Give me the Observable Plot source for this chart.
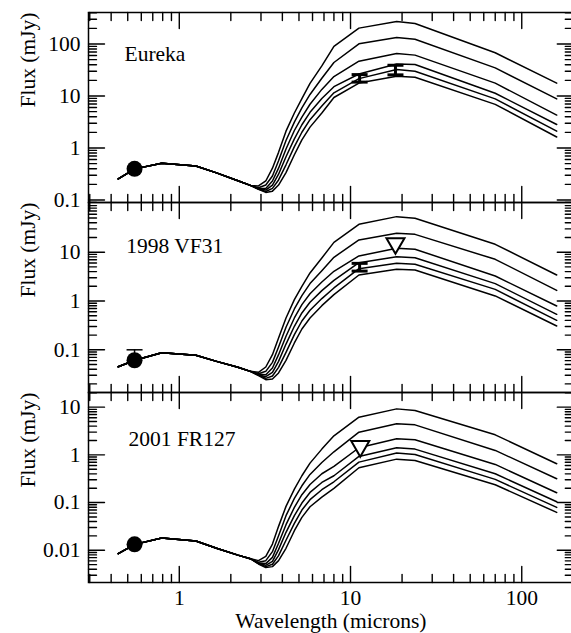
<!DOCTYPE html>
<html><head><meta charset="utf-8">
<script src="https://cdn.jsdelivr.net/npm/d3@7"></script>
<script src="https://cdn.jsdelivr.net/npm/@observablehq/plot@0.6"></script>
<style>
html,body{margin:0;padding:0;background:#fff;overflow:hidden;}
#chart{position:relative;width:571px;height:633px;}
#chart svg{position:absolute;left:0;}
#chart svg text{font-family:"Liberation Serif","DejaVu Serif",serif !important;}
</style></head><body><div id="chart"></div>
<script>
// wavelengths (microns)
const opticalWl = [0.44, 0.55, 0.79, 1.25, 1.65, 2.2, 2.6];
const thermalWl = [2.9, 3.2, 3.5, 3.8, 4.2, 4.7, 5.2, 5.8, 6.8, 8.0, 11.2, 18.6, 23.8, 70, 160];

// axis ticks
const xMajor = [1, 10, 100];
const xMinor = [0.3, 0.4, 0.5, 0.6, 0.7, 0.8, 0.9, 2, 3, 4, 5, 6, 7, 8, 9, 20, 30, 40, 50, 60, 70, 80, 90];
const eurekaYTicks = [0.1, 1, 10, 100];
const vf31YTicks = [0.1, 1, 10];
const fr127YTicks = [0.01, 0.1, 1, 10];

// object names
const names = ["Eureka", "1998 VF31", "2001 FR127"];

// Eureka (flux, mJy)
const eurekaOptical = [0.254, 0.397, 0.51, 0.45, 0.332, 0.235, 0.191];
const eurekaModels = [
  [0.186, 0.232, 0.409, 0.824, 2.11, 4.71, 8.94, 17.5, 37.9, 90.2, 202, 271, 248, 67.8, 17.7],
  [0.172, 0.194, 0.290, 0.568, 1.39, 3.15, 5.89, 10.7, 21.9, 44.1, 101, 133, 123, 34.7, 8.8],
  [0.167, 0.167, 0.232, 0.409, 0.957, 2.17, 3.94, 6.94, 13.4, 23.6, 46.8, 65.9, 61.1, 17.7, 4.3],
  [0.165, 0.155, 0.194, 0.313, 0.679, 1.50, 2.80, 4.85, 8.94, 15.1, 26.5, 41.4, 40.3, 11.3, 2.83],
  [0.162, 0.146, 0.167, 0.243, 0.475, 1.06, 2.01, 3.50, 6.44, 11.5, 21.6, 32.2, 29.9, 8.8, 2.11],
  [0.160, 0.140, 0.148, 0.194, 0.337, 0.742, 1.43, 2.52, 4.71, 9.35, 17.7, 23.9, 22.9, 6.9, 1.63]
];
const eurekaPhot = [{wl: 0.548, flux: 0.397}];
const eurekaErr = [{wl: 11.3, flux: 22, lo: 18.5, hi: 25.8}, {wl: 18.3, flux: 31, lo: 25.5, hi: 39}];
const eurekaLimits = [];

// 1998 VF31
const vf31Optical = [0.045, 0.061, 0.087, 0.077, 0.058, 0.044, 0.0362];
const vf31Models = [
  [0.0345, 0.0444, 0.0795, 0.1745, 0.449, 1.065, 2.00, 3.75, 7.60, 15.9, 37.2, 53.5, 49.4, 14.5, 3.41],
  [0.0324, 0.0362, 0.0553, 0.114, 0.289, 0.686, 1.29, 2.27, 4.18, 7.85, 17.8, 24.4, 23.2, 7.14, 1.65],
  [0.0314, 0.0309, 0.0424, 0.0795, 0.189, 0.449, 0.841, 1.41, 2.45, 4.06, 8.36, 12.0, 11.5, 3.25, 0.79],
  [0.0309, 0.0281, 0.0345, 0.058, 0.131, 0.303, 0.568, 0.939, 1.63, 2.65, 6.10, 8.10, 7.72, 2.27, 0.533],
  [0.0305, 0.0260, 0.0290, 0.0437, 0.0887, 0.204, 0.389, 0.644, 1.12, 1.85, 4.60, 5.91, 5.64, 1.73, 0.402],
  [0.0295, 0.0244, 0.0252, 0.0335, 0.0608, 0.138, 0.267, 0.449, 0.802, 1.35, 3.41, 4.46, 4.32, 1.27, 0.307]
];
const vf31Phot = [{wl: 0.548, flux: 0.061, hi: 0.1}];
const vf31Err = [{wl: 11.3, flux: 5.0, lo: 4.1, hi: 5.9}];
const vf31Limits = [{wl: 18.3, flux: 15.1}];

// 2001 FR127
const fr127Optical = [0.0085, 0.0133, 0.0181, 0.0156, 0.011, 0.0079, 0.00667];
const fr127Models = [
  [0.00606, 0.00747, 0.0135, 0.0317, 0.0832, 0.192, 0.365, 0.671, 1.32, 2.51, 6.17, 9.21, 8.50, 2.63, 0.650],
  [0.00559, 0.00606, 0.00935, 0.0202, 0.0531, 0.122, 0.225, 0.389, 0.693, 1.16, 2.99, 4.47, 4.26, 1.24, 0.316],
  [0.00541, 0.00525, 0.00711, 0.0140, 0.0344, 0.0792, 0.146, 0.240, 0.402, 0.572, 1.41, 2.17, 2.07, 0.630, 0.161],
  [0.00533, 0.00484, 0.00586, 0.0103, 0.0238, 0.0531, 0.0977, 0.163, 0.264, 0.365, 0.926, 1.41, 1.32, 0.402, 0.104],
  [0.00525, 0.00454, 0.00508, 0.00771, 0.0162, 0.0366, 0.0697, 0.115, 0.186, 0.273, 0.705, 1.09, 1.02, 0.306, 0.0792],
  [0.00516, 0.00433, 0.00454, 0.00606, 0.0110, 0.0257, 0.0489, 0.0818, 0.130, 0.198, 0.536, 0.814, 0.764, 0.236, 0.0622]
];
const fr127Phot = [{wl: 0.548, flux: 0.0133}];
const fr127Err = [];
const fr127Limits = [{wl: 11.4, flux: 1.51}];

const FONT = '"Liberation Serif", "DejaVu Serif", serif';
const FS = 21.5;
const X_DOMAIN = [0.295, 200];
const W = 571, ML = 88, MR = -1.8, FRAME_H = 190, FRAME_W = W - ML - MR;
const MAJOR = 16, MINOR = 8;
const capSymbol = {draw(ctx) { ctx.moveTo(-8, 0); ctx.lineTo(8, 0); }};

function minorTicks(domain) {
  const out = [];
  const lo = Math.floor(Math.log10(domain[0])) - 1, hi = Math.ceil(Math.log10(domain[1]));
  for (let e = lo; e <= hi; e++) for (let k = 2; k <= 9; k++) {
    const v = k * Math.pow(10, e);
    if (v > domain[0] && v < domain[1]) out.push(v);
  }
  return out;
}

// inward tick segments as two-point polylines in the (log) data space, length in pixels
function tickLines(xVals, yVals, yd, px) {
  const fy = Math.pow(yd[1] / yd[0], px / FRAME_H);
  const fx = Math.pow(X_DOMAIN[1] / X_DOMAIN[0], px / FRAME_W);
  const out = [];
  let id = 0;
  const add = (a, b) => { id++; out.push({id: px + "-" + id, ...a}, {id: px + "-" + id, ...b}); };
  xVals.forEach(v => {
    add({x: v, y: yd[0]}, {x: v, y: yd[0] * fy});
    add({x: v, y: yd[1] / fy}, {x: v, y: yd[1]});
  });
  yVals.forEach(v => {
    add({x: X_DOMAIN[0], y: v}, {x: X_DOMAIN[0] * fx, y: v});
    add({x: X_DOMAIN[1] / fx, y: v}, {x: X_DOMAIN[1], y: v});
  });
  return out;
}

function panel(cfg) {
  const wl = opticalWl.concat(thermalWl);
  const rows = [];
  cfg.models.forEach((thermal, i) => {
    cfg.optical.concat(thermal).forEach((f, j) => rows.push({curve: i, wl: wl[j], flux: f}));
  });
  const ticks = tickLines(xMajor, cfg.yTicks, cfg.yDomain, MAJOR)
    .concat(tickLines(xMinor, minorTicks(cfg.yDomain), cfg.yDomain, MINOR));
  const marks = [
    Plot.line(rows, {x: "wl", y: "flux", z: "curve", stroke: "black", strokeWidth: 1.5}),
    Plot.line(ticks, {x: "x", y: "y", z: "id", stroke: "black", strokeWidth: 1.4}),
    Plot.frame({stroke: "black", strokeWidth: 1.5}),
    Plot.axisY(cfg.yTicks, {anchor: "left", tickSize: 0, tickPadding: 8, fontSize: FS, fontFamily: FONT, fill: "black", tickFormat: d => String(d)}),
    Plot.text(["Flux (mJy)"], {frameAnchor: "left", dx: -60, rotate: -90, fontSize: FS, fontFamily: FONT, fill: "black"}),
    Plot.text([cfg.name], {frameAnchor: "top-left", dx: cfg.nameDx, dy: cfg.nameDy, textAnchor: "start", lineAnchor: "bottom", fontSize: FS, fontFamily: FONT, fill: "black"}),
    // photometry: error bars
    Plot.ruleX(cfg.err, {x: "wl", y1: "lo", y2: "hi", stroke: "black", strokeWidth: 3}),
    Plot.dot(cfg.err, {x: "wl", y: "lo", symbol: capSymbol, stroke: "black", fill: "none", strokeWidth: 3}),
    Plot.dot(cfg.err, {x: "wl", y: "hi", symbol: capSymbol, stroke: "black", fill: "none", strokeWidth: 3}),
    // optical point
    Plot.ruleX(cfg.phot.filter(d => d.hi), {x: "wl", y1: "flux", y2: "hi", stroke: "black", strokeWidth: 1.5}),
    Plot.dot(cfg.phot.filter(d => d.hi), {x: "wl", y: "hi", symbol: capSymbol, stroke: "black", fill: "none", strokeWidth: 1.5}),
    Plot.dot(cfg.phot, {x: "wl", y: "flux", r: 8, fill: "black", stroke: "none"}),
    // upper limits
    Plot.dot(cfg.limits, {x: "wl", y: "flux", symbol: "triangle", r: 6.7, rotate: 180, stroke: "black", fill: "white", strokeWidth: 2})
  ];
  if (cfg.showX) {
    marks.push(Plot.axisX(xMajor, {anchor: "bottom", tickSize: 0, tickPadding: 7, fontSize: FS, fontFamily: FONT, fill: "black", tickFormat: d => String(d)}));
    marks.push(Plot.text(["Wavelength (microns)"], {frameAnchor: "bottom", dy: 45, lineAnchor: "bottom", fontSize: FS, fontFamily: FONT, fill: "black"}));
  }
  const svg = Plot.plot({
    width: W,
    height: cfg.height,
    marginLeft: ML,
    marginRight: MR,
    marginTop: cfg.marginTop,
    marginBottom: cfg.marginBottom,
    style: `background: transparent; overflow: visible; font-size: ${FS}px;`,
    x: {type: "log", domain: X_DOMAIN, label: null, axis: cfg.showX ? undefined : null},
    y: {type: "log", domain: cfg.yDomain, label: null},
    marks
  });
  svg.style.top = cfg.top + "px";
  document.getElementById("chart").appendChild(svg);
}

panel({name: names[0], optical: eurekaOptical, models: eurekaModels, phot: eurekaPhot, err: eurekaErr, limits: eurekaLimits,
  yTicks: eurekaYTicks, yDomain: [0.0895, 403.5], top: 0, height: 202, marginTop: 12, marginBottom: 0, nameDx: 36, nameDy: 48, showX: false});
panel({name: names[1], optical: vf31Optical, models: vf31Models, phot: vf31Phot, err: vf31Err, limits: vf31Limits,
  yTicks: vf31YTicks, yDomain: [0.01334, 104.2], top: 202, height: 190, marginTop: 0, marginBottom: 0, nameDx: 37.7, nameDy: 50.3, showX: false});
panel({name: names[2], optical: fr127Optical, models: fr127Models, phot: fr127Phot, err: fr127Err, limits: fr127Limits,
  yTicks: fr127YTicks, yDomain: [0.00211, 20.3], top: 392, height: 241, marginTop: 0, marginBottom: 51, nameDx: 40, nameDy: 53, showX: true});
</script>
</body></html>
